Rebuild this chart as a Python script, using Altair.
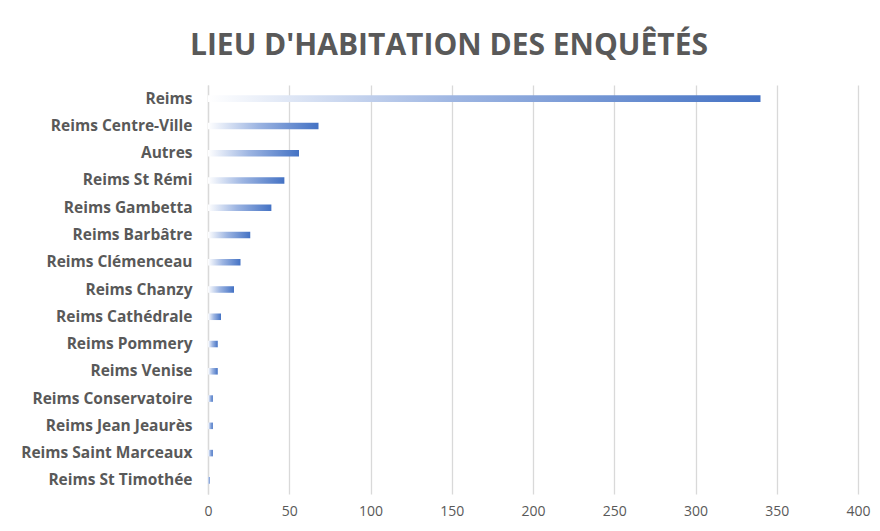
import altair as alt
import pandas as pd

categories = [
    "Reims", "Reims Centre-Ville", "Autres", "Reims St Rémi", "Reims Gambetta",
    "Reims Barbâtre", "Reims Clémenceau", "Reims Chanzy", "Reims Cathédrale",
    "Reims Pommery", "Reims Venise", "Reims Conservatoire", "Reims Jean Jeaurès",
    "Reims Saint Marceaux", "Reims St Timothée",
]
values = [340, 68, 56, 47, 39, 26, 20, 16, 8, 6, 6, 3, 3, 3, 1]
x_ticks = [0, 50, 100, 150, 200, 250, 300, 350, 400]

df = pd.DataFrame({"lieu": categories, "n": values})

gradient = alt.Gradient(
    gradient="linear",
    stops=[
        alt.GradientStop(color="#ffffff", offset=0),
        alt.GradientStop(color="#9db5e2", offset=0.45),
        alt.GradientStop(color="#4472c4", offset=1),
    ],
    x1=0, x2=1, y1=0, y2=0,
)

chart = (
    alt.Chart(df)
    .mark_bar(color=gradient)
    .encode(
        x=alt.X(
            "n:Q",
            scale=alt.Scale(domain=[0, 400], nice=False),
            axis=alt.Axis(
                values=x_ticks, title=None, grid=True, gridColor="#d9d9d9",
                gridWidth=1.3, domain=False, ticks=False, labelFontSize=14,
                labelColor="#595959", labelFont="Open Sans", labelPadding=10,
                labelFlush=False,
            ),
        ),
        y=alt.Y(
            "lieu:N",
            sort=categories,
            scale=alt.Scale(paddingInner=0.76, paddingOuter=0.38),
            axis=alt.Axis(
                title=None, ticks=False, domain=True, domainColor="#d9d9d9",
                domainWidth=1.3, labelFontSize=15.5, labelFontWeight="bold",
                labelColor="#595959", labelFont="Open Sans", labelPadding=16,
                labelLimit=300,
            ),
        ),
    )
    .properties(
        width=650,
        height=409,
        title=alt.TitleParams(
            "LIEU D'HABITATION DES ENQUÊTÉS",
            fontSize=30, font="Open Sans", fontWeight="bold", color="#595959",
            anchor="middle", dx=-84, offset=24,
        ),
        autosize=alt.AutoSizeParams(type="none"),
        padding={"left": 200, "top": 77, "right": 13, "bottom": 29},
    )
    .configure_view(stroke=None)
)

chart.save("out.html", embed_options={"renderer": "svg", "actions": False})
